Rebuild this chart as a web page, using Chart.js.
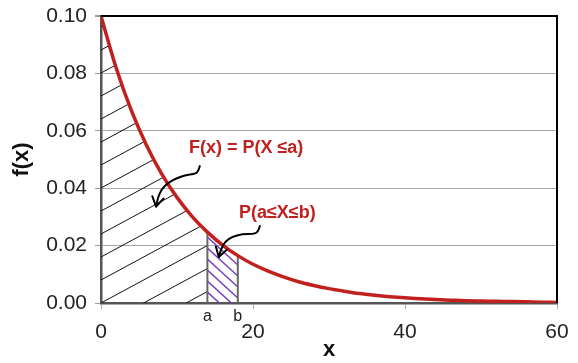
<!DOCTYPE html>
<html>
<head>
<meta charset="utf-8">
<script src="https://cdn.jsdelivr.net/npm/chart.js@4.4.1/dist/chart.umd.min.js"></script>
<style>
  html, body { margin: 0; padding: 0; background: #fff; }
  #wrap { width: 578px; height: 363px; }
</style>
</head>
<body>
<div id="wrap"><canvas id="pdfChart"></canvas></div>
<script>
// density curve f(x), sampled every 2 units of x
const xValues = [0, 2, 4, 6, 8, 10, 12, 14, 16, 18, 20, 22, 24, 26, 28, 30,
  32, 34, 36, 38, 40, 42, 44, 46, 48, 50, 52, 54, 56, 58, 60];
const fValues = [0.1000, 0.0819, 0.0670, 0.0549, 0.0449, 0.0368, 0.0301, 0.0247,
  0.0202, 0.0165, 0.0135, 0.0111, 0.0091, 0.0074, 0.0061, 0.0050,
  0.0041, 0.0033, 0.0027, 0.0022, 0.0018, 0.0015, 0.0012, 0.0010,
  0.0008, 0.0007, 0.0006, 0.0005, 0.0004, 0.0003, 0.0002];

// interval bounds a and b
const aValue = 14;
const bValue = 18;
const boundLabels = ['a', 'b'];

const xTickValues = [0, 20, 40, 60];
const yTickValues = [0, 0.02, 0.04, 0.06, 0.08, 0.10];

const cdfLabel = 'F(x) = P(X \u2264a)';
const rangeLabel = 'P(a\u2264X\u2264b)';

const RED = '#c0211f';
const PURPLE = '#7a3fc2';
const FONT = '"Liberation Sans", Arial, Helvetica, sans-serif';

// callouts: text anchor and freehand arrow path, in data units
const callouts = [
  { text: cdfLabel, at: [19.1, 0.0540],
    path: [[13.0, 0.0477], [12.8, 0.0456], [12.2, 0.0449], [11.2, 0.0446], [10.0, 0.0436],
           [8.8, 0.0418], [8.0, 0.0397], [7.5, 0.0369], [7.25, 0.0336]] },
  { text: rangeLabel, at: [23.2, 0.0314],
    path: [[20.9, 0.0268], [20.7, 0.0247], [20.0, 0.0240], [18.6, 0.0240], [17.2, 0.0230],
           [16.3, 0.0213], [15.8, 0.0188], [15.5, 0.0160]] }
];

// closed path under the curve between lo and hi, using the curve's own points
function regionPath(ctx, chart, lo, hi) {
  const xs = chart.scales.x, ys = chart.scales.y;
  const pts = chart.getDatasetMeta(0).data;
  ctx.beginPath();
  ctx.moveTo(xs.getPixelForValue(lo), ys.getPixelForValue(0));
  xValues.forEach((v, i) => {
    if (v >= lo && v <= hi) ctx.lineTo(pts[i].x, pts[i].y);
  });
  ctx.lineTo(xs.getPixelForValue(hi), ys.getPixelForValue(0));
  ctx.closePath();
}

// parallel hatch lines clipped to the region; slope in pixels (dy/dx)
function drawHatch(ctx, chart, lo, hi, slope, gap, color, width) {
  const xs = chart.scales.x, ys = chart.scales.y;
  const left = xs.getPixelForValue(lo), right = xs.getPixelForValue(hi);
  const base = ys.getPixelForValue(0), top = chart.chartArea.top;
  const span = right - left;
  ctx.save();
  regionPath(ctx, chart, lo, hi);
  ctx.clip();
  ctx.strokeStyle = color;
  ctx.lineWidth = width;
  ctx.beginPath();
  const kMin = -Math.ceil(Math.abs(slope) * span / gap) - 1;
  const kMax = Math.ceil((base - top + Math.abs(slope) * span) / gap) + 1;
  for (let k = kMin; k <= kMax; k++) {
    const y0 = base - k * gap;
    ctx.moveTo(left, y0);
    ctx.lineTo(right, y0 + slope * span);
  }
  ctx.stroke();
  ctx.restore();
}

const shadingPlugin = {
  id: 'shading',
  beforeDatasetsDraw(chart) {
    const { ctx } = chart;
    const xs = chart.scales.x, ys = chart.scales.y;
    const pts = chart.getDatasetMeta(0).data;
    drawHatch(ctx, chart, 0, aValue, -0.54, 23, '#111', 1);
    drawHatch(ctx, chart, aValue, bValue, 0.92, 11, PURPLE, 1.5);

    // vertical bounds at a and b
    ctx.save();
    ctx.strokeStyle = '#666';
    ctx.lineWidth = 2;
    [aValue, bValue].forEach(v => {
      const i = xValues.indexOf(v);
      const px = xs.getPixelForValue(v);
      ctx.beginPath();
      ctx.moveTo(px, ys.getPixelForValue(0));
      ctx.lineTo(px, pts[i].y - 1);
      ctx.stroke();
    });
    ctx.restore();
  },
  afterDatasetsDraw(chart) {
    const { ctx, chartArea } = chart;
    const xs = chart.scales.x, ys = chart.scales.y;

    // top and right frame
    ctx.save();
    ctx.strokeStyle = '#000';
    ctx.lineWidth = 2;
    ctx.beginPath();
    ctx.moveTo(chartArea.left, chartArea.top);
    ctx.lineTo(chartArea.right, chartArea.top);
    ctx.lineTo(chartArea.right, chartArea.bottom);
    ctx.stroke();
    ctx.restore();

    // callout arrows and text
    ctx.save();
    callouts.forEach(c => {
      const p = c.path.map(([x, y]) => [xs.getPixelForValue(x), ys.getPixelForValue(y)]);
      ctx.strokeStyle = '#000';
      ctx.lineWidth = 2;
      ctx.lineJoin = 'round';
      ctx.lineCap = 'round';
      ctx.beginPath();
      ctx.moveTo(p[0][0], p[0][1]);
      for (let i = 1; i < p.length - 1; i++) {
        const mx = (p[i][0] + p[i + 1][0]) / 2, my = (p[i][1] + p[i + 1][1]) / 2;
        ctx.quadraticCurveTo(p[i][0], p[i][1], mx, my);
      }
      const tip = p[p.length - 1];
      ctx.lineTo(tip[0], tip[1]);
      ctx.stroke();

      // arrow head
      const prev = p[p.length - 2];
      const ang = Math.atan2(tip[1] - prev[1], tip[0] - prev[0]);
      const len = 11;
      ctx.beginPath();
      ctx.moveTo(tip[0] - len * Math.cos(ang - 0.55), tip[1] - len * Math.sin(ang - 0.55));
      ctx.lineTo(tip[0], tip[1]);
      ctx.lineTo(tip[0] - len * Math.cos(ang + 0.55), tip[1] - len * Math.sin(ang + 0.55));
      ctx.stroke();

      ctx.fillStyle = RED;
      ctx.font = 'bold 18px ' + FONT;
      ctx.textAlign = 'center';
      ctx.textBaseline = 'middle';
      ctx.fillText(c.text, xs.getPixelForValue(c.at[0]), ys.getPixelForValue(c.at[1]));
    });
    ctx.restore();
  },
  afterDraw(chart) {
    const { ctx } = chart;
    const xs = chart.scales.x, ys = chart.scales.y;
    ctx.save();
    ctx.fillStyle = '#222';
    ctx.font = '16px ' + FONT;
    ctx.textAlign = 'center';
    ctx.textBaseline = 'middle';
    [aValue, bValue].forEach((v, i) => {
      ctx.fillText(boundLabels[i], xs.getPixelForValue(v), ys.getPixelForValue(0) + 14);
    });
    ctx.restore();
  }
};

new Chart(document.getElementById('pdfChart'), {
  type: 'line',
  data: {
    datasets: [{
      label: 'f(x)',
      data: xValues.map((x, i) => ({ x: x, y: fValues[i] })),
      borderColor: RED,
      borderWidth: 3.5,
      pointRadius: 0,
      cubicInterpolationMode: 'monotone',
      fill: false
    }]
  },
  options: {
    responsive: true,
    maintainAspectRatio: false,
    animation: false,
    layout: { padding: { top: 16, right: 21, left: 0, bottom: 0 } },
    plugins: {
      legend: { display: false },
      tooltip: { enabled: false }
    },
    scales: {
      x: {
        type: 'linear',
        min: 0,
        max: 60,
        afterBuildTicks: s => { s.ticks = xTickValues.map(v => ({ value: v })); },
        afterFit: s => { s.height = 60; s.paddingLeft = 0; s.paddingRight = 0; },
        ticks: { color: '#222', font: { family: FONT, size: 21 }, padding: 11, maxRotation: 0 },
        grid: { drawOnChartArea: false, tickLength: 6, color: '#aaa' },
        border: { color: '#555', width: 2.5 },
        title: {
          display: true, text: 'x', color: '#111',
          font: { family: FONT, size: 22, weight: 'bold' },
          padding: { top: 0, bottom: 0 }
        }
      },
      y: {
        min: 0,
        max: 0.1,
        afterBuildTicks: s => { s.ticks = yTickValues.map(v => ({ value: v })); },
        afterFit: s => { s.width = 101; s.paddingTop = 0; s.paddingBottom = 0; },
        ticks: {
          color: '#222', font: { family: FONT, size: 21 }, padding: 8,
          callback: v => Number(v).toFixed(2)
        },
        grid: {
          tickLength: 6,
          tickColor: '#999',
          color: c => (c.tick && c.tick.value >= 0.1 ? '#000' : (c.tick && c.tick.value === 0 ? 'rgba(0,0,0,0)' : '#aaa')),
          lineWidth: c => (c.tick && c.tick.value >= 0.1 ? 2 : 1)
        },
        border: { color: '#555', width: 2.5 },
        title: {
          display: true, text: 'f(x)', color: '#111',
          font: { family: FONT, size: 22, weight: 'bold' },
          padding: { top: 9, bottom: 0 }
        }
      }
    }
  },
  plugins: [shadingPlugin]
});
</script>
</body>
</html>
